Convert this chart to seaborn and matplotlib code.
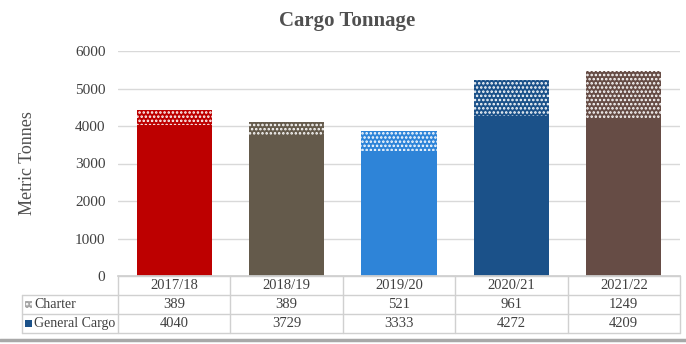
import matplotlib
matplotlib.use("Agg")
import matplotlib.pyplot as plt
import seaborn as sns
from matplotlib.lines import Line2D
from matplotlib.patches import Rectangle

years = ["2017/18", "2018/19", "2019/20", "2020/21", "2021/22"]
charter = [389, 389, 521, 961, 1249]
general_cargo = [4040, 3729, 3333, 4272, 4209]
bar_colors = ["#BD0000", "#645a4b", "#2E84D8", "#1B5189", "#664C45"]
y_ticks = [0, 1000, 2000, 3000, 4000, 5000, 6000]

sns.set_theme(style="white")
plt.rcParams["font.family"] = ["Liberation Serif", "DejaVu Serif"]
plt.rcParams["hatch.color"] = "white"
plt.rcParams["hatch.linewidth"] = 1.2

W, H = 686, 344
fig = plt.figure(figsize=(W / 100, H / 100), dpi=100)
ax_l, ax_r, ax_b, ax_t = 118, 680, 276, 51
ax = fig.add_axes([ax_l / W, 1 - ax_b / H, (ax_r - ax_l) / W, (ax_b - ax_t) / H])

totals = [c + g for c, g in zip(charter, general_cargo)]

# charter segment: full stacked height, hatched
sns.barplot(x=years, y=totals, hue=years, palette=bar_colors, legend=False,
            width=0.67, ax=ax, saturation=1)
for p in ax.patches:
    p.set_hatch("....")
    p.set_edgecolor("white")
    p.set_linewidth(0)
n_top = len(ax.patches)

# general cargo segment on the bottom
sns.barplot(x=years, y=general_cargo, hue=years, palette=bar_colors, legend=False,
            width=0.67, ax=ax, saturation=1)
for p in ax.patches[n_top:]:
    p.set_linewidth(0)

ax.set_ylim(0, 6000)
ax.set_xlim(-0.5, len(years) - 0.5)
ax.set_yticks(y_ticks)
ax.set_yticklabels([str(t) for t in y_ticks], fontsize=11, color="#404040")
ax.set_xticks([])
ax.set_xlabel("")
ax.set_ylabel("Metric Tonnes", fontsize=13, color="#505050")
ax.yaxis.set_label_coords((36 - ax_l) / (ax_r - ax_l), 0.5)
ax.grid(axis="y", color="#d9d9d9", linewidth=1)
ax.set_axisbelow(True)
ax.tick_params(axis="y", length=0, pad=9)
for s in ["left", "right", "top"]:
    ax.spines[s].set_visible(False)
ax.spines["bottom"].set_color("#d0d0d0")

fig.text(347 / W, 1 - 21 / H, "Cargo Tonnage", ha="center", va="center",
         fontsize=15, fontweight="bold", color="#505050")

# data table under the chart
line_c = "#d0d0d0"
def fx(x):
    return x / W
def fy(y):
    return 1 - y / H

rows = [276, 295, 314, 333]
col_w = (ax_r - ax_l) / len(years)
left_col = 22

def hline(x0, x1, y, c=line_c, lw=1):
    fig.add_artist(Line2D([fx(x0), fx(x1)], [fy(y), fy(y)], color=c, lw=lw))

def vline(x, y0, y1, c=line_c, lw=1):
    fig.add_artist(Line2D([fx(x), fx(x)], [fy(y0), fy(y1)], color=c, lw=lw))

hline(ax_l, ax_r, rows[0])
for y in rows[1:]:
    hline(left_col, ax_r, y)
vline(left_col, rows[1], rows[3])
for i in range(len(years) + 1):
    vline(ax_l + i * col_w, rows[0], rows[3])

txt_kw = dict(ha="center", va="center", fontsize=10.5, color="#404040")
for i, yr in enumerate(years):
    cx = ax_l + (i + 0.5) * col_w
    fig.text(fx(cx), fy((rows[0] + rows[1]) / 2), yr, **txt_kw)
    fig.text(fx(cx), fy((rows[1] + rows[2]) / 2), str(charter[i]), **txt_kw)
    fig.text(fx(cx), fy((rows[2] + rows[3]) / 2), str(general_cargo[i]), **txt_kw)

# legend keys in the row headers
for (y0, y1), label, hatch, col in [((rows[1], rows[2]), "Charter", "....", "#a6a6a6"),
                                     ((rows[2], rows[3]), "General Cargo", None, "#1B5189")]:
    cy = (y0 + y1) / 2
    fig.add_artist(Rectangle((fx(25), fy(cy + 3.5)), 7 / W, 7 / H, facecolor=col,
                             edgecolor="white" if hatch else col, lw=0,
                             hatch=hatch))
    fig.text(fx(34), fy(cy), label, ha="left", va="center", fontsize=10, color="#404040")

hline(0, 686, 340, c="#a8a8a8", lw=2.5)

fig.savefig("out.png", dpi=100)
